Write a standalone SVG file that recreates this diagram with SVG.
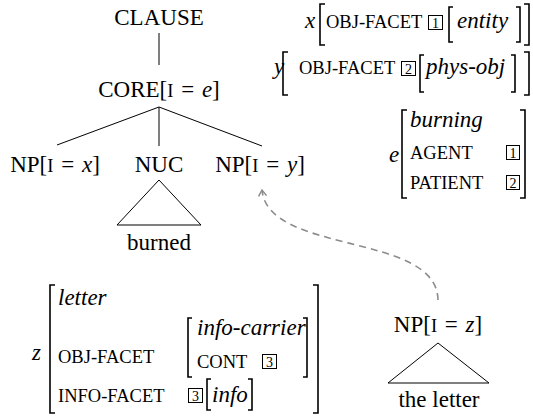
<svg xmlns="http://www.w3.org/2000/svg" width="533" height="417" viewBox="0 0 533 417" font-family="Liberation Serif, Tinos, Times New Roman, Nimbus Roman, DejaVu Serif, serif">
<style>
text{font-family:'Liberation Serif',Tinos,'Times New Roman','Nimbus Roman','DejaVu Serif',serif;fill:#000}
.t{font-size:23px}
.sc{font-size:18.5px}
.it{font-style:italic;font-size:23px}
.num{font-size:14px;text-anchor:middle}
.box{fill:none;stroke:#000;stroke-width:1}
.br{fill:none;stroke:#000;stroke-width:1.6}
.edge{stroke:#000;stroke-width:1;fill:none}
.dash{stroke:#8c8c8c;stroke-width:1.6;fill:none;stroke-dasharray:7 5}
</style>
<defs>
<marker id="arr" viewBox="0 0 10 10" refX="8" refY="5" markerWidth="10" markerHeight="10" markerUnits="userSpaceOnUse" orient="auto">
<path d="M2,1 L8,5 L2,9" fill="none" stroke="#8c8c8c" stroke-width="1.5"/>
</marker>
</defs>

<g id="connectors">
<line class="edge" x1="159" y1="33" x2="159" y2="65"/>
<line class="edge" x1="159" y1="107" x2="57" y2="145"/>
<line class="edge" x1="159" y1="107" x2="159" y2="146"/>
<line class="edge" x1="159" y1="107" x2="262" y2="146"/>
<path class="edge" d="M159,180 L117,225 L201,225 Z"/>
<path class="edge" d="M438,343 L388,383 L489,383 Z"/>
<path class="dash" d="M438,300 C437,232 268,255 262,190" marker-end="url(#arr)"/>
</g>

<g id="clause"><text class="t" x="159" y="25" text-anchor="middle">CLAUSE</text></g>
<g id="core"><text class="t" x="159" y="97" text-anchor="middle">CORE[<tspan class="sc">I</tspan><tspan dx="2"> = </tspan><tspan class="it" dx="2">e</tspan>]</text></g>
<g id="np-x"><text class="t" x="55" y="172" text-anchor="middle">NP[<tspan class="sc">I</tspan><tspan dx="2"> = </tspan><tspan class="it" dx="2">x</tspan>]</text></g>
<g id="nuc"><text class="t" x="159" y="172" text-anchor="middle">NUC</text></g>
<g id="np-y"><text class="t" x="260" y="172" text-anchor="middle">NP[<tspan class="sc">I</tspan><tspan dx="2"> = </tspan><tspan class="it" dx="2">y</tspan>]</text></g>
<g id="burned"><text class="t" x="159" y="250" text-anchor="middle">burned</text></g>
<g id="np-z"><text class="t" x="438" y="332" text-anchor="middle">NP[<tspan class="sc">I</tspan><tspan dx="2"> = </tspan><tspan class="it" dx="2">z</tspan>]</text></g>
<g id="the-letter"><text class="t" x="439" y="407" text-anchor="middle">the letter</text></g>

<g id="avm-x">
<text class="it" x="305" y="28">x</text>
<path class="br" d="M325,4 H320 V45 H325"/>
<text class="sc" x="326" y="28">OBJ-FACET</text>
<rect class="box" x="428.5" y="15.5" width="14" height="14"/>
<text class="num" x="435.5" y="27.5">1</text>
<path class="br" d="M453,7 H449 V42 H453"/>
<text class="it" x="457" y="28">entity</text>
<path class="br" d="M516,7 H520 V42 H516"/>
<path class="br" d="M524,4 H529 V45 H524"/>
</g>

<g id="avm-y">
<text class="it" x="274" y="74">y</text>
<path class="br" d="M288,52 H283 V95 H288"/>
<text class="sc" x="299" y="74">OBJ-FACET</text>
<rect class="box" x="401.5" y="61.5" width="14" height="14"/>
<text class="num" x="408.5" y="73.5">2</text>
<path class="br" d="M424,55 H420 V92 H424"/>
<text class="it" x="426" y="74">phys-obj</text>
<path class="br" d="M511,55 H515 V92 H511"/>
<path class="br" d="M524,52 H529 V95 H524"/>
</g>

<g id="avm-e">
<text class="it" x="389" y="162">e</text>
<path class="br" d="M407,110 H402 V198 H407"/>
<text class="it" x="410" y="127">burning</text>
<text class="sc" x="410" y="159">AGENT</text>
<rect class="box" x="506.5" y="145.5" width="13" height="14"/>
<text class="num" x="513" y="157.5">1</text>
<text class="sc" x="410" y="189">PATIENT</text>
<rect class="box" x="506.5" y="175.5" width="13" height="14"/>
<text class="num" x="513" y="187.5">2</text>
<path class="br" d="M520,110 H525 V198 H520"/>
</g>

<g id="avm-z">
<text class="it" x="32" y="360">z</text>
<path class="br" d="M55,285 H50 V413 H55"/>
<text class="it" x="58" y="305">letter</text>
<text class="sc" x="58" y="363">OBJ-FACET</text>
<path class="br" d="M192,318 H188 V377 H192"/>
<text class="it" x="197" y="335">info-carrier</text>
<text class="sc" x="197" y="368">CONT</text>
<rect class="box" x="262.5" y="354.5" width="14" height="14"/>
<text class="num" x="269.5" y="366.5">3</text>
<path class="br" d="M303,318 H307 V377 H303"/>
<text class="sc" x="58" y="402">INFO-FACET</text>
<rect class="box" x="188.5" y="388.5" width="14" height="14"/>
<text class="num" x="195.5" y="400.5">3</text>
<path class="br" d="M211,379 H207 V410 H211"/>
<text class="it" x="212" y="402">info</text>
<path class="br" d="M248,379 H252 V410 H248"/>
<path class="br" d="M313,285 H318 V413 H313"/>
</g>
</svg>
